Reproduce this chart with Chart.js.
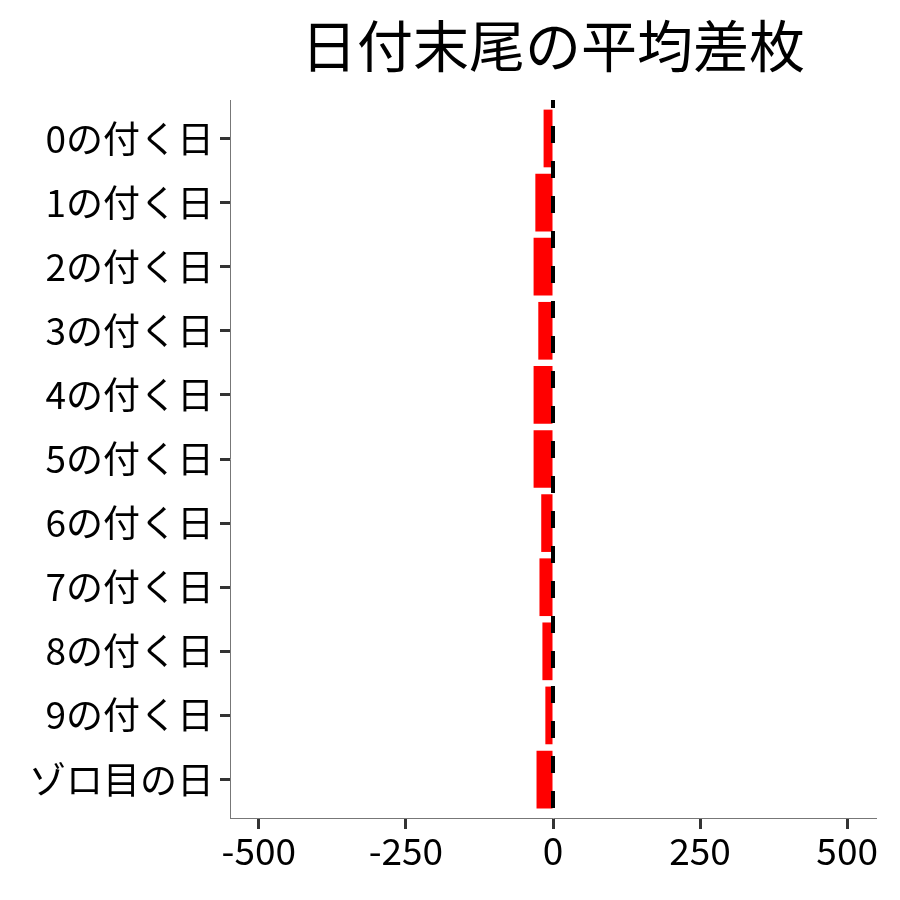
<!DOCTYPE html>
<html>
<head>
<meta charset="utf-8">
<script src="https://cdn.jsdelivr.net/npm/chart.js@4"></script>
<style>
html,body{margin:0;padding:0;background:#fff;}
#wrap{width:900px;height:900px;}
</style>
</head>
<body>
<div id="wrap"><canvas id="c" width="900" height="900"></canvas></div>
<script>
const categories = ["0の付く日","1の付く日","2の付く日","3の付く日","4の付く日","5の付く日","6の付く日","7の付く日","8の付く日","9の付く日","ゾロ目の日"];
const diffValues = [-16,-30,-33,-25,-33,-33,-20,-23,-18,-13,-28];
const xTicks = [-500,-250,0,250,500];
const titleText = "日付末尾の平均差枚";

const FONT = '"Noto Sans CJK JP", "Noto Sans", sans-serif';

const zeroLine = {
  id: 'zeroLine',
  afterDatasetsDraw(chart) {
    const xs = chart.scales.x, a = chart.chartArea, ctx = chart.ctx;
    const x = xs.getPixelForValue(0);
    ctx.save();
    ctx.strokeStyle = '#000';
    ctx.lineWidth = 4;
    ctx.setLineDash([17, 18]);
    ctx.lineDashOffset = 9;
    ctx.beginPath();
    ctx.moveTo(x, a.top);
    ctx.lineTo(x, a.bottom);
    ctx.stroke();
    ctx.restore();
  }
};

const plotTitle = {
  id: 'plotTitle',
  afterDraw(chart) {
    const a = chart.chartArea, ctx = chart.ctx;
    ctx.save();
    ctx.fillStyle = '#000';
    ctx.font = '56px ' + FONT;
    ctx.textAlign = 'center';
    ctx.textBaseline = 'middle';
    ctx.fillText(titleText, (a.left + a.right) / 2, 46);
    ctx.restore();
  }
};

new Chart(document.getElementById('c'), {
  type: 'bar',
  data: {
    datasets: [{
      data: diffValues.map((v, i) => ({x: v, y: i})),
      backgroundColor: '#ff0000',
      borderWidth: 0,
      barPercentage: 0.9,
      categoryPercentage: 1.0
    }]
  },
  options: {
    indexAxis: 'y',
    responsive: false,
    animation: false,
    devicePixelRatio: 1,
    layout: {padding: {left: 0, right: 24, top: 100, bottom: 0}},
    plugins: {
      legend: {display: false},
      tooltip: {enabled: false},
      title: {display: false}
    },
    scales: {
      x: {
        type: 'linear',
        min: -549,
        max: 549,
        afterBuildTicks(s) { s.ticks = xTicks.map(v => ({value: v})); },
        afterFit(s) { s.height = 82; },
        grid: {display: true, drawOnChartArea: false, tickLength: 11, tickWidth: 3, tickColor: '#333'},
        border: {display: true, color: '#777', width: 1},
        ticks: {color: '#000', font: {family: FONT, size: 37}, padding: 0, maxRotation: 0}
      },
      y: {
        type: 'linear',
        min: -0.6,
        max: 10.6,
        reverse: true,
        offset: false,
        afterBuildTicks(s) { s.ticks = categories.map((_, i) => ({value: i})); },
        afterFit(s) { s.width = 230; },
        grid: {display: true, offset: false, drawOnChartArea: false, tickLength: 10, tickWidth: 3, tickColor: '#333'},
        border: {display: true, color: '#777', width: 1},
        ticks: {
          color: '#000',
          font: {family: FONT, size: 37},
          padding: 6,
          autoSkip: false,
          callback: (v) => categories[v]
        }
      }
    }
  },
  plugins: [zeroLine, plotTitle]
});
</script>
</body>
</html>
